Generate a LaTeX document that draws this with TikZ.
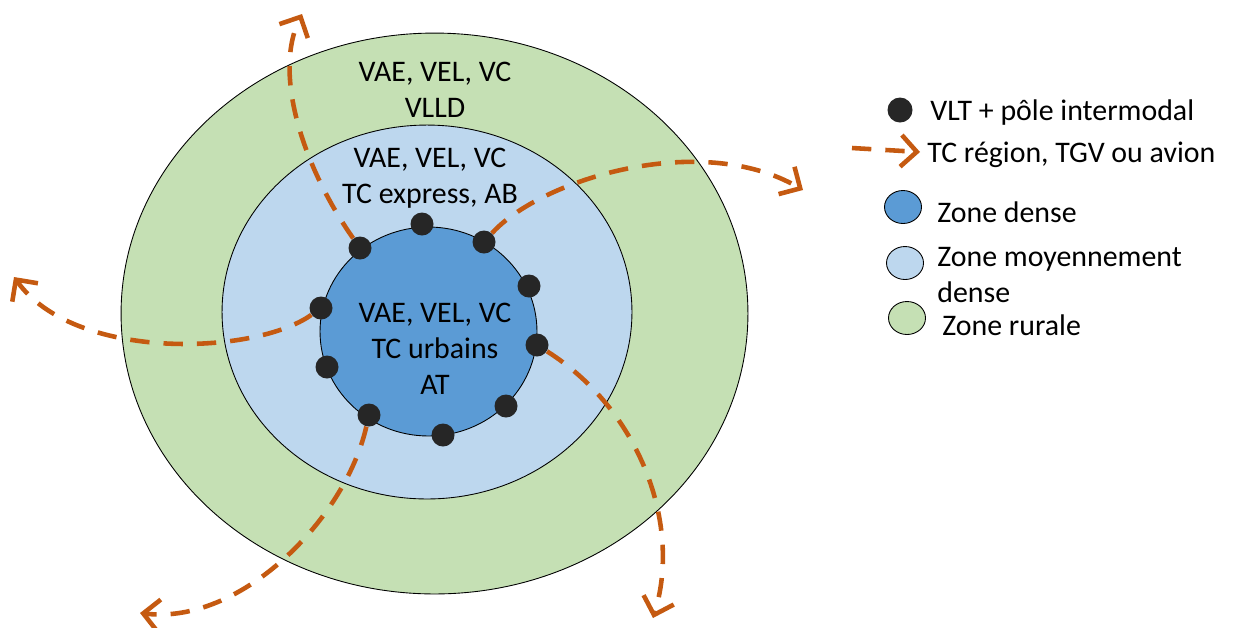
\documentclass[tikz,border=0pt]{standalone}
\usepackage{fontspec}
\setmainfont{Carlito}
\usetikzlibrary{arrows.meta,shapes.geometric}
\definecolor{rural}{HTML}{C5E0B4}
\definecolor{moyen}{HTML}{BDD7EE}
\definecolor{densec}{HTML}{5B9BD5}
\definecolor{dotc}{HTML}{262626}
\definecolor{flowc}{HTML}{C55A11}
\begin{document}
\begin{tikzpicture}[x=0.02cm,y=-0.02cm,
  zone/.style={ellipse, draw=black, line width=0.5pt, inner sep=0pt},
  hub/.style={circle, fill=dotc, inner sep=0pt, minimum size=0.46cm},
  flow/.style={draw=flowc, line width=2.6pt, dash pattern=on 11pt off 8pt,
    -{Straight Barb[length=9pt,width=18pt]}},
  lab/.style={font=\fontsize{17}{20.5}\selectfont, align=center, text=black},
  leg/.style={font=\fontsize{17}{20.5}\selectfont, anchor=west, inner sep=0pt}
]
\useasboundingbox (0,0) rectangle (1233,627);
% zones
\node[zone, fill=rural, minimum width=12.54cm, minimum height=11.22cm] (rural) at (434.5,313.5) {};
\node[zone, fill=moyen, minimum width=8.2cm, minimum height=7.48cm] (moyen) at (427,312) {};
\node[zone, fill=densec, minimum width=4.34cm, minimum height=4.18cm] (dense) at (428.5,331.5) {};
% zone texts
\node[lab] (trural) at (435,90) {VAE, VEL, VC\\VLLD};
\node[lab] (tmoyen) at (430,178) {VAE, VEL, VC\\TC express, AB};
\node[lab] (tdense) at (435,349) {VAE, VEL, VC\\TC urbains\\AT};
% hubs
\node[hub] (h1) at (360,248) {};
\node[hub] (h2) at (422,224) {};
\node[hub] (h3) at (484,242) {};
\node[hub] (h4) at (529,286) {};
\node[hub] (h5) at (321,308) {};
\node[hub] (h6) at (327,367) {};
\node[hub] (h7) at (369,415) {};
\node[hub] (h8) at (443,435) {};
\node[hub] (h9) at (506,406) {};
\node[hub] (h10) at (537,345) {};
% flows
\coordinate (e1) at (302,14);
\coordinate (e2) at (803,190);
\coordinate (e3) at (14,277);
\coordinate (e4) at (140,613);
\coordinate (e5) at (653,618);
\draw[flow] (h1) .. controls (305,170) and (272,75) .. (e1);
\draw[flow] (h3) .. controls (540,180) and (700,130) .. (e2);
\draw[flow] (h5) .. controls (255,355) and (75,362) .. (e3);
\draw[flow] (h7) .. controls (345,520) and (240,625) .. (e4);
\draw[flow] (h10) .. controls (640,410) and (682,525) .. (e5);
% legend
\node[hub, minimum size=0.5cm] (lhub) at (900,110) {};
\node[leg] (tlhub) at (930,113) {VLT + pôle intermodal};
\coordinate (la0) at (852,148);
\coordinate (la1) at (920,152);
\draw[flow] (la0) -- (la1);
\node[leg] (tla) at (927,155) {TC région, TGV ou avion};
\node[zone, fill=densec, minimum width=0.74cm, minimum height=0.66cm] (ldense) at (903,207) {};
\node[leg] (tldense) at (937,212) {Zone dense};
\node[zone, fill=moyen, minimum width=0.74cm, minimum height=0.66cm] (lmoyen) at (905,263) {};
\node[leg, align=left] (tlmoyen) at (937,275) {Zone moyennement\\dense};
\node[zone, fill=rural, minimum width=0.74cm, minimum height=0.66cm] (lrural) at (907,318) {};
\node[leg] (tlrural) at (942,325) {Zone rurale};
\end{tikzpicture}
\end{document}
